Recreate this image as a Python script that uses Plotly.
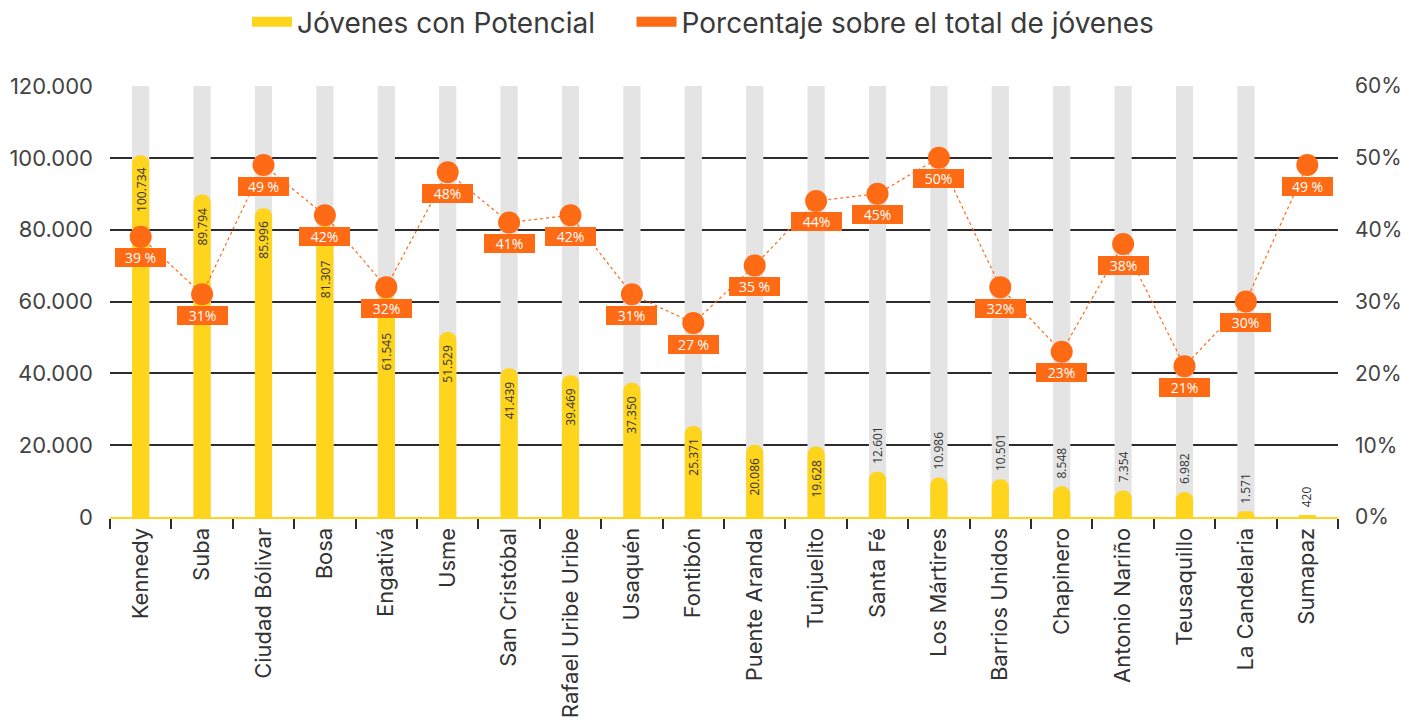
import plotly.graph_objects as go

localidades = ["Kennedy", "Suba", "Ciudad Bólivar", "Bosa", "Engativá", "Usme",
               "San Cristóbal", "Rafael Uribe Uribe", "Usaquén", "Fontibón",
               "Puente Aranda", "Tunjuelito", "Santa Fé", "Los Mártires",
               "Barrios Unidos", "Chapinero", "Antonio Nariño", "Teusaquillo",
               "La Candelaria", "Sumapaz"]
jovenes = [100734, 89794, 85996, 81307, 61545, 51529, 41439, 39469, 37350, 25371,
           20086, 19628, 12601, 10986, 10501, 8548, 7354, 6982, 1571, 420]
porcentaje = [39, 31, 49, 42, 32, 48, 41, 42, 31, 27, 35, 44, 45, 50, 32, 23, 38, 21, 30, 49]
pct_labels = ["39 %", "31%", "49 %", "42%", "32%", "48%", "41%", "42%", "31%", "27 %",
              "35 %", "44%", "45%", "50%", "32%", "23%", "38%", "21%", "30%", "49 %"]
fondo = [120000] * 19 + [None]
left_ticks = [0, 20000, 40000, 60000, 80000, 100000, 120000]
right_ticks = [0, 10, 20, 30, 40, 50, 60]
right_ticktext = ["0%", "10%", "20%", "30%", "40%", "50%", "60%"]

YELLOW = "#FFD41C"
ORANGE = "#FF6A14"
GRAY = "#E4E4E4"
DARK = "#2E2A2D"
FONT = "Inter"

W, H = 1417, 720
M = dict(l=110, r=79, t=86, b=203)
Y1MAX, Y2MAX = 120000, 60
plot_h = H - M["t"] - M["b"]
BOX_SHIFT = -21

bar_text = [f"{v:,}".replace(",", ".") for v in jovenes]

fig = go.Figure()
# grey background columns (base axis)
fig.add_trace(go.Bar(x=localidades, y=fondo, marker=dict(color=GRAY, line=dict(width=0)),
                     width=0.28, showlegend=False, hoverinfo="skip"))
# yellow bars on an overlaid hidden axis with the same range
fig.add_trace(go.Bar(x=localidades, y=jovenes, yaxis="y2", name="Jóvenes con Potencial",
                     marker=dict(color=YELLOW, line=dict(width=0), cornerradius="50%"),
                     width=0.28, showlegend=False))
# percentage line on the right axis
fig.add_trace(go.Scatter(x=localidades, y=porcentaje, yaxis="y3", mode="lines+markers",
                         line=dict(color=ORANGE, width=1.2, dash="dot"),
                         marker=dict(color=ORANGE, size=22),
                         showlegend=False, cliponaxis=False))
# legend entries
fig.add_trace(go.Scatter(x=[None], y=[None], mode="lines",
                         name="Jóvenes con Potencial\u00a0\u00a0\u00a0\u00a0",
                         line=dict(color=YELLOW, width=18)))
fig.add_trace(go.Scatter(x=[None], y=[None], mode="lines",
                         name="Porcentaje sobre el total de jóvenes",
                         line=dict(color=ORANGE, width=18)))

# value labels on bars (moved below the percentage box when they would collide)
for c, v, p, t in zip(localidades, jovenes, porcentaje, bar_text):
    inside = v > 15000
    shift = -11 if inside else 6
    if inside:
        top_px = v / Y1MAX * plot_h
        box_c = p / Y2MAX * plot_h + BOX_SHIFT
        box_top, box_bot = box_c + 10, box_c - 10
        txt_top = top_px - 11
        txt_bot = txt_top - 7 * len(t)
        if txt_top > box_bot and txt_bot < box_top:
            shift = -(top_px - box_bot) - 12
    fig.add_annotation(x=c, y=v, xref="x", yref="y", text=t, showarrow=False,
                       textangle=-90, yanchor="top" if inside else "bottom",
                       yshift=shift,
                       font=dict(family="Open Sans", size=12, color="#333333"))

# percentage labels
for c, p, t in zip(localidades, porcentaje, pct_labels):
    fig.add_annotation(x=c, y=p, xref="x", yref="y3", text=t, showarrow=False,
                       yshift=BOX_SHIFT, bgcolor=ORANGE, borderwidth=0, borderpad=2,
                       width=47, height=15,
                       font=dict(family="Open Sans", size=14, color="white"))

fig.update_layout(
    width=W, height=H,
    margin=M,
    paper_bgcolor="white", plot_bgcolor="white",
    barmode="overlay",
    separators=",.",
    font=dict(family=FONT, color="#3a3a3a"),
    legend=dict(orientation="h", xref="container", yref="container",
                x=247 / W, xanchor="left", y=1 - 22 / H, yanchor="middle",
                itemwidth=40,
                font=dict(family=FONT, size=28, color="#3a3a3a"),
                bgcolor="rgba(0,0,0,0)"),
    xaxis=dict(type="category", range=[-0.5, 19.5], tickangle=-90,
               tickfont=dict(family=FONT, size=22, color="#333333"),
               showline=True, linecolor=YELLOW, linewidth=2,
               ticks="outside", tickson="boundaries", ticklen=10, tickwidth=2,
               tickcolor=DARK, showgrid=False, zeroline=False, automargin=False),
    yaxis=dict(range=[0, Y1MAX], tickvals=left_ticks, tickformat=",d",
               showgrid=True, gridcolor=DARK, gridwidth=2, zeroline=False,
               tickfont=dict(family=FONT, size=22, color="#444444"),
               ticks="", ticklabelstandoff=16, automargin=False),
    yaxis2=dict(range=[0, Y1MAX], overlaying="y", visible=False, showgrid=False,
                zeroline=False),
    yaxis3=dict(range=[0, Y2MAX], tickvals=right_ticks, ticktext=right_ticktext,
                overlaying="y", side="right", showgrid=False, zeroline=False,
                tickfont=dict(family=FONT, size=21, color="#444444"),
                ticks="", ticklabelstandoff=16, automargin=False),
)

fig.write_html("out.html", config={"displayModeBar": False},
               post_script="document.body.style.margin='0px';")
